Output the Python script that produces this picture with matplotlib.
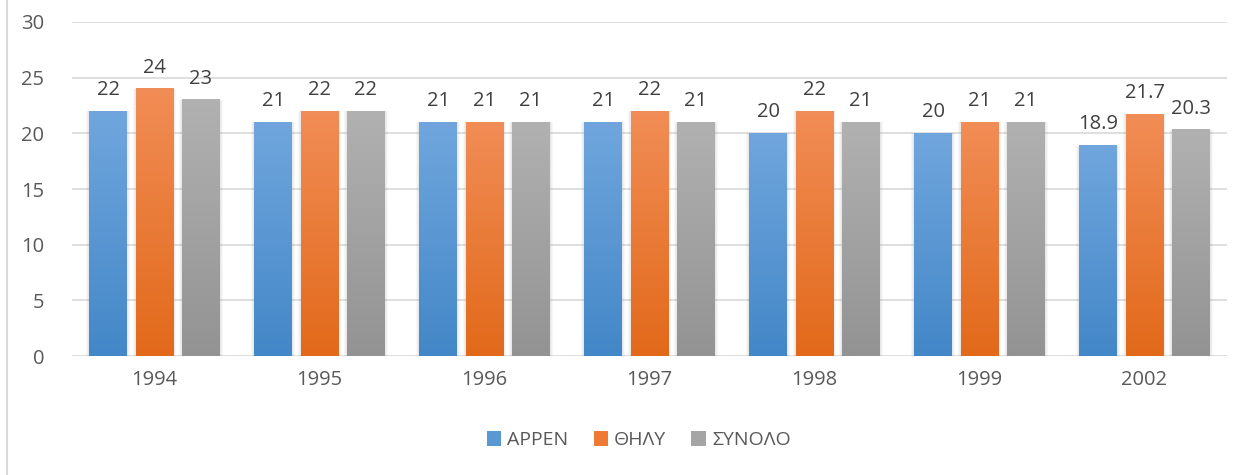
import numpy as np
import matplotlib.pyplot as plt
from matplotlib.colors import LinearSegmentedColormap
from matplotlib.patches import Patch, Rectangle
from matplotlib.lines import Line2D

# Datos
anios = ['1994', '1995', '1996', '1997', '1998', '1999', '2002']
arren = [22, 21, 21, 21, 20, 20, 18.9]
thily = [24, 22, 21, 22, 22, 21, 21.7]
synolo = [23, 22, 21, 21, 21, 21, 20.3]
etiquetas = ['ΑΡΡΕΝ', 'ΘΗΛΥ', 'ΣΥΝΟΛΟ']

# colores (arriba, abajo) para el degradado
colores = [('#70a6dd', '#4387c8'), ('#f18d56', '#e2691a'), ('#b1b1b1', '#939393')]
medios = ['#5a98d4', '#ee7a34', '#a5a5a5']

plt.rcParams['font.family'] = ['Open Sans', 'DejaVu Sans']
fs = 14.5

fig = plt.figure(figsize=(12.5, 4.75), dpi=100)
ax = fig.add_axes([0.0576, 0.2505, 0.924, 0.7032])

x = np.arange(len(anios))
ancho = 0.23
paso = 0.28
series = [arren, thily, synolo]

for k, serie in enumerate(series):
    cmap = LinearSegmentedColormap.from_list('g%d' % k, [colores[k][1], colores[k][0]])
    grad = np.linspace(0, 1, 256).reshape(-1, 1)
    for i, v in enumerate(serie):
        xc = x[i] + (k - 1) * paso
        x0 = xc - ancho / 2
        # sombra suave
        for s in range(1, 4):
            d = 0.006 * s
            ax.add_patch(Rectangle((x0 - d, 0), ancho + 2 * d, v,
                                   facecolor='#7a7a7a', alpha=0.06, edgecolor='none', zorder=2))
        ax.imshow(grad, extent=(x0, x0 + ancho, 0, v), origin='lower', cmap=cmap,
                  aspect='auto', zorder=3)
        txt = ('%g' % v) if v != int(v) else str(int(v))
        ax.text(xc, v + 1.0, txt, ha='center', va='bottom', fontsize=fs, color='#404040', zorder=4)

ax.set_xlim(-0.5, len(anios) - 0.5)
ax.set_ylim(0, 30)
ax.set_yticks(range(0, 31, 5))
ax.set_xticks(x)
ax.set_xticklabels(anios)
ax.yaxis.grid(True, color='#d9d9d9', linewidth=1.2, zorder=0)
ax.set_axisbelow(True)
for sp in ax.spines.values():
    sp.set_visible(False)
ax.tick_params(axis='both', length=0, labelsize=fs, labelcolor='#595959')
ax.tick_params(axis='x', pad=10)
ax.tick_params(axis='y', pad=20)

handles = [Patch(facecolor=medios[k], edgecolor='none') for k in range(3)]
fig.legend(handles, etiquetas, loc='center', bbox_to_anchor=(0.511, 0.073), ncol=3,
           frameon=False, fontsize=14, labelcolor='#595959', handlelength=0.75,
           handleheight=0.75, handletextpad=0.3, columnspacing=1.3)

fig.add_artist(Line2D([0.0056, 0.0056], [0, 1], color='#d9d9d9', linewidth=1.5,
                      transform=fig.transFigure))

fig.savefig('out.png', dpi=100)
